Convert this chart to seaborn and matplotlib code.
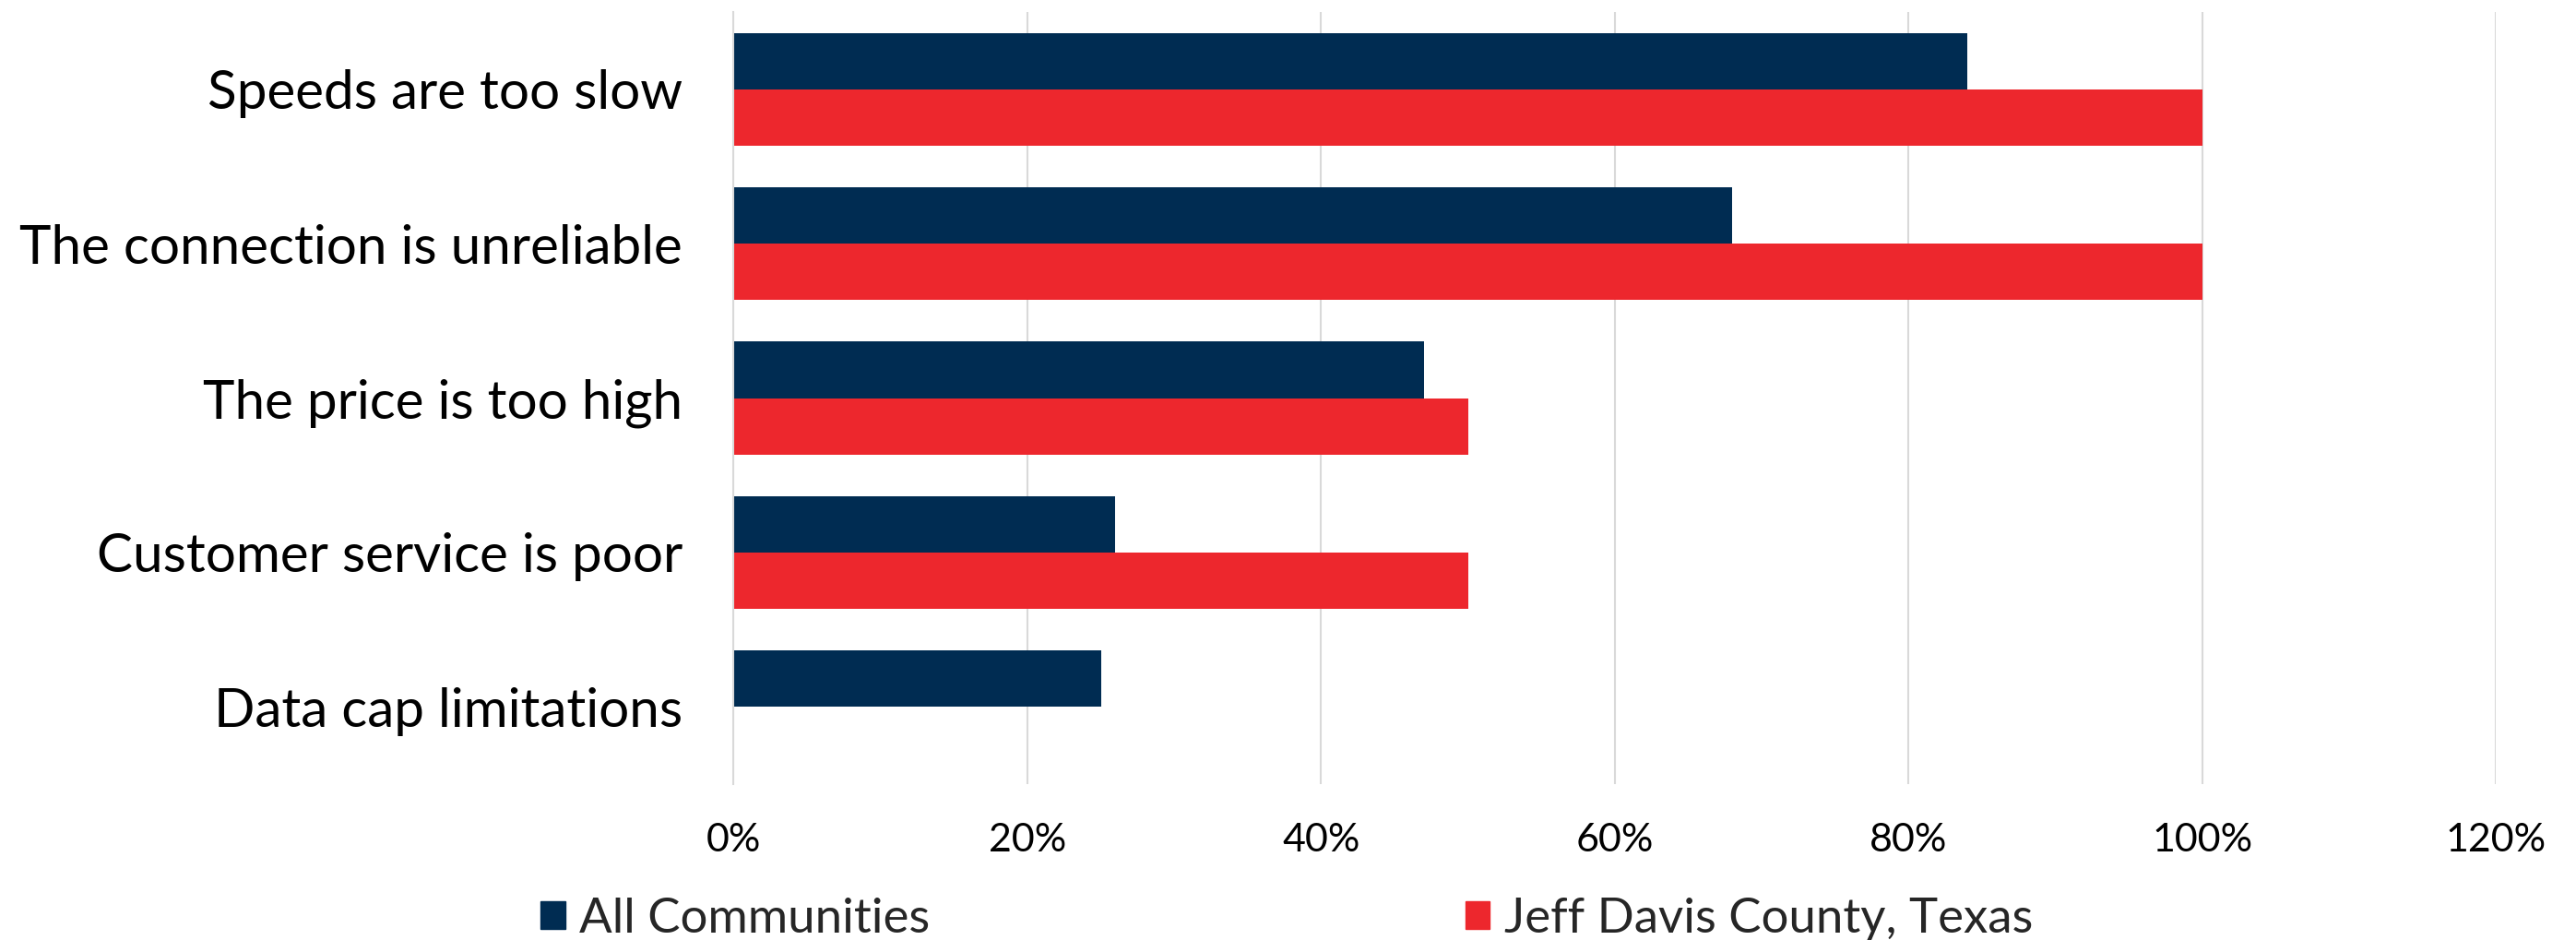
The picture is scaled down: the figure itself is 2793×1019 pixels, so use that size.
import matplotlib
matplotlib.use("Agg")
import matplotlib.pyplot as plt
import seaborn as sns
import pandas as pd
from matplotlib.patches import Patch
from matplotlib.ticker import PercentFormatter

categories = ["Speeds are too slow", "The connection is unreliable", "The price is too high",
              "Customer service is poor", "Data cap limitations"]
all_communities = [0.84, 0.68, 0.47, 0.26, 0.25]
jeff_davis = [1.00, 1.00, 0.50, 0.50, 0.0]
series_names = ["All Communities", "Jeff Davis County, Texas"]
x_ticks = [0, 0.2, 0.4, 0.6, 0.8, 1.0, 1.2]

navy = "#002C52"
red = "#ED272D"

df = pd.DataFrame({
    "Category": categories * 2,
    "Value": all_communities + jeff_davis,
    "Series": [series_names[0]] * len(categories) + [series_names[1]] * len(categories),
})

sns.set_style("white")
plt.rcParams['font.family'] = ['Lato', 'DejaVu Sans']

fig = plt.figure(figsize=(27.93, 10.19), dpi=100)
ax = fig.add_axes([0.2848, 0.166, 0.9690 - 0.2848, 0.987 - 0.166])

sns.barplot(data=df, y="Category", x="Value", hue="Series", orient="h",
            palette=[navy, red], width=0.73, order=categories, hue_order=series_names,
            ax=ax, legend=False, saturation=1, linewidth=0)

ax.set_xlim(0, 1.2)
ax.set_ylim(4.5, -0.5)
ax.set_xticks(x_ticks)
ax.xaxis.set_major_formatter(PercentFormatter(1.0, decimals=0))
ax.grid(axis="x", color="#D9D9D9", linewidth=1.5)
ax.set_axisbelow(True)
for s in ["top", "right", "bottom"]:
    ax.spines[s].set_visible(False)
ax.spines["left"].set_color("#D9D9D9")
ax.spines["left"].set_linewidth(1.5)
ax.set_xlabel("")
ax.set_ylabel("")
ax.tick_params(axis="y", length=0, pad=40, labelsize=42, labelcolor="#000000")
ax.tick_params(axis="x", length=0, pad=30, labelsize=31, labelcolor="#000000")

handles = [Patch(facecolor=navy, edgecolor=navy), Patch(facecolor=red, edgecolor=red)]
leg = fig.legend(handles, series_names, loc="center", bbox_to_anchor=(0.4996, 0.022), ncol=2,
                 frameon=False, fontsize=38, handlelength=0.5, handleheight=0.5,
                 handletextpad=0.3, columnspacing=11.0, borderaxespad=0)

fig.savefig("out.png", dpi=100)
